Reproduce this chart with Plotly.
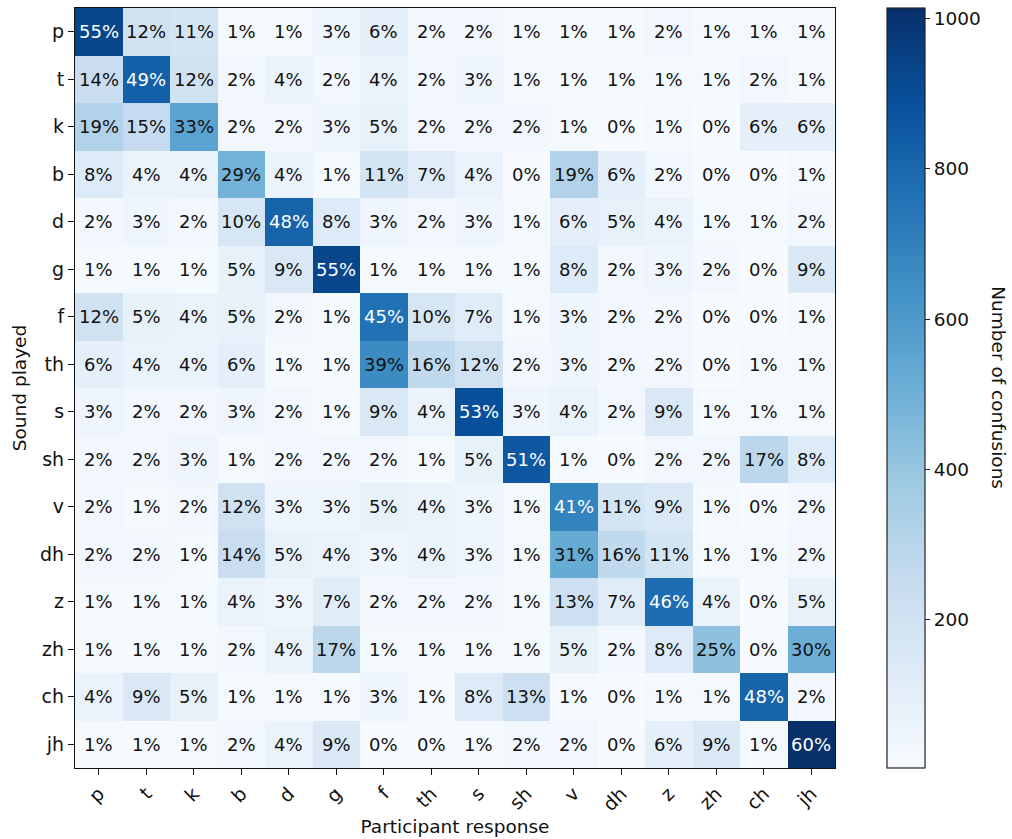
import plotly.graph_objects as go

# Phoneme labels (sound played = rows, participant response = columns)
sounds = ["p", "t", "k", "b", "d", "g", "f", "th", "s", "sh", "v", "dh", "z", "zh", "ch", "jh"]

# Percentage of responses for each played sound (row-wise)
pct_p  = [55, 12, 11, 1, 1, 3, 6, 2, 2, 1, 1, 1, 2, 1, 1, 1]
pct_t  = [14, 49, 12, 2, 4, 2, 4, 2, 3, 1, 1, 1, 1, 1, 2, 1]
pct_k  = [19, 15, 33, 2, 2, 3, 5, 2, 2, 2, 1, 0, 1, 0, 6, 6]
pct_b  = [8, 4, 4, 29, 4, 1, 11, 7, 4, 0, 19, 6, 2, 0, 0, 1]
pct_d  = [2, 3, 2, 10, 48, 8, 3, 2, 3, 1, 6, 5, 4, 1, 1, 2]
pct_g  = [1, 1, 1, 5, 9, 55, 1, 1, 1, 1, 8, 2, 3, 2, 0, 9]
pct_f  = [12, 5, 4, 5, 2, 1, 45, 10, 7, 1, 3, 2, 2, 0, 0, 1]
pct_th = [6, 4, 4, 6, 1, 1, 39, 16, 12, 2, 3, 2, 2, 0, 1, 1]
pct_s  = [3, 2, 2, 3, 2, 1, 9, 4, 53, 3, 4, 2, 9, 1, 1, 1]
pct_sh = [2, 2, 3, 1, 2, 2, 2, 1, 5, 51, 1, 0, 2, 2, 17, 8]
pct_v  = [2, 1, 2, 12, 3, 3, 5, 4, 3, 1, 41, 11, 9, 1, 0, 2]
pct_dh = [2, 2, 1, 14, 5, 4, 3, 4, 3, 1, 31, 16, 11, 1, 1, 2]
pct_z  = [1, 1, 1, 4, 3, 7, 2, 2, 2, 1, 13, 7, 46, 4, 0, 5]
pct_zh = [1, 1, 1, 2, 4, 17, 1, 1, 1, 1, 5, 2, 8, 25, 0, 30]
pct_ch = [4, 9, 5, 1, 1, 1, 3, 1, 8, 13, 1, 0, 1, 1, 48, 2]
pct_jh = [1, 1, 1, 2, 4, 9, 0, 0, 1, 2, 2, 0, 6, 9, 1, 60]

pct_rows = [pct_p, pct_t, pct_k, pct_b, pct_d, pct_g, pct_f, pct_th,
            pct_s, pct_sh, pct_v, pct_dh, pct_z, pct_zh, pct_ch, pct_jh]

# Number of presentations of each sound
trials_per_sound = 1690

counts = [[p / 100 * trials_per_sound for p in row] for row in pct_rows]
zmax = max(max(r) for r in counts)
zmin = 3

# matplotlib "Blues"
blues = [
    [0.0, "#f7fbff"], [0.125, "#deebf7"], [0.25, "#c6dbef"], [0.375, "#9ecae1"],
    [0.5, "#6baed6"], [0.625, "#4292c6"], [0.75, "#2171b5"], [0.875, "#08519c"],
    [1.0, "#08306b"],
]

font_family = "DejaVu Sans"
ink = "#111111"

fig = go.Figure(go.Heatmap(
    z=counts, x=sounds, y=sounds,
    colorscale=blues, zmin=zmin, zmax=zmax,
    xgap=0, ygap=0, hoverinfo="skip",
    colorbar=dict(
        x=1.0684, xanchor="left", xref="paper", xpad=0, ypad=0,
        y=0.5, yanchor="middle", len=1.0, lenmode="fraction",
        thickness=38, thicknessmode="pixels",
        outlinewidth=1.2, outlinecolor="#222222",
        tickvals=[200, 400, 600, 800, 1000],
        ticks="outside", ticklen=5, tickcolor="#222222",
        tickfont=dict(family=font_family, size=18.5, color=ink),
    ),
))

# Cell labels: white on dark cells, black elsewhere
threshold = zmax * 2 / 3
annotations = []
for i, row in enumerate(pct_rows):
    for j, p in enumerate(row):
        annotations.append(dict(
            x=sounds[j], y=sounds[i], xref="x", yref="y",
            text=f"{p}%", showarrow=False,
            font=dict(family=font_family, size=18,
                      color="white" if counts[i][j] > threshold else ink),
        ))

# Colorbar title, reading top to bottom
annotations.append(dict(
    x=1.232, y=0.5, xref="paper", yref="paper",
    text="Number of confusions", textangle=90, showarrow=False,
    font=dict(family=font_family, size=18.5, color=ink),
))

axis_common = dict(
    showline=True, linecolor=ink, linewidth=1.2, mirror=True,
    ticks="outside", ticklen=6, tickcolor=ink,
    tickfont=dict(family=font_family, size=19, color=ink),
    showgrid=False, zeroline=False, automargin=False,
)

fig.update_layout(
    width=1012, height=839,
    margin=dict(l=75, r=177, t=8, b=71),
    paper_bgcolor="white", plot_bgcolor="white",
    annotations=annotations,
    xaxis=dict(axis_common, tickangle=-45,
               title=dict(text="Participant response", standoff=6,
                          font=dict(family=font_family, size=18.5, color=ink))),
    yaxis=dict(axis_common, autorange="reversed",
               title=dict(text="Sound played", standoff=8,
                          font=dict(family=font_family, size=18.5, color=ink))),
)

fig.write_html("out.html")
